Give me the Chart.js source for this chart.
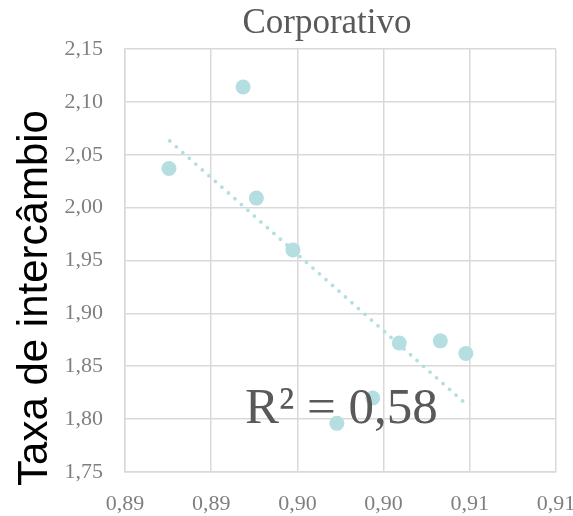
<!DOCTYPE html>
<html>
<head>
<meta charset="utf-8">
<script src="https://cdn.jsdelivr.net/npm/chart.js@4"></script>
<style>
  html, body { margin: 0; padding: 0; background: #fff; }
  #wrap { width: 573px; height: 516px; }
</style>
</head>
<body>
<div id="wrap"><canvas id="scatterChart"></canvas></div>
<script>
// valores
const xValues = [0.88755, 0.89185, 0.89262, 0.89474, 0.89729, 0.89937, 0.90091, 0.90329, 0.90477];
const yValues = [2.037, 2.114, 2.009, 1.960, 1.796, 1.820, 1.872, 1.874, 1.862];
const trendX = [0.8876, 0.9048];
const trendY = [2.063, 1.814];
const xTickValues = [0.885, 0.890, 0.895, 0.900, 0.905, 0.910];
const xTickLabels = ['0,89', '0,89', '0,90', '0,90', '0,91', '0,91'];
const yTickValues = [1.75, 1.80, 1.85, 1.90, 1.95, 2.00, 2.05, 2.10, 2.15];
const yTickLabels = ['1,75', '1,80', '1,85', '1,90', '1,95', '2,00', '2,05', '2,10', '2,15'];
const chartTitle = 'Corporativo';
const yTitle = 'Taxa de intercâmbio';
const r2Label = 'R² = 0,58';

document.addEventListener('DOMContentLoaded', function () {
    const ctx = document.getElementById('scatterChart').getContext('2d');
    const serif = '"Liberation Serif", "DejaVu Serif", serif';
    const markColor = '#b5dee1';

    const overlayText = {
        id: 'overlayText',
        afterDraw(chart) {
            const c = chart.ctx;
            c.save();
            c.fillStyle = '#595959';
            c.font = '35px ' + serif;
            c.textAlign = 'center';
            c.textBaseline = 'alphabetic';
            c.fillText(chartTitle, 327, 33);

            c.font = '51px ' + serif;
            c.textAlign = 'left';
            c.fillText(r2Label, 245, 423);

            c.fillStyle = '#000';
            c.font = '42px "Liberation Sans", Arial, sans-serif';
            c.translate(47, 298);
            c.rotate(-Math.PI / 2);
            c.textAlign = 'center';
            c.fillText(yTitle, 0, 0);
            c.restore();
        }
    };

    new Chart(ctx, {
        type: 'scatter',
        data: {
            datasets: [{
                label: 'Corporativo',
                data: xValues.map((x, i) => ({ x: x, y: yValues[i] })),
                backgroundColor: markColor,
                borderWidth: 0,
                pointRadius: 7.5,
                order: 1
            }, {
                label: 'Tendência',
                type: 'line',
                data: trendX.map((x, i) => ({ x: x, y: trendY[i] })),
                borderColor: markColor,
                borderWidth: 3.8,
                borderDash: [0, 8.7],
                borderCapStyle: 'round',
                pointRadius: 0,
                fill: false,
                order: 2
            }]
        },
        options: {
            responsive: true,
            maintainAspectRatio: false,
            animation: false,
            layout: { padding: { top: 49, right: 17, left: 0, bottom: 0 } },
            plugins: {
                legend: { display: false },
                title: { display: false },
                tooltip: { enabled: false }
            },
            scales: {
                x: {
                    type: 'linear',
                    min: 0.885,
                    max: 0.91,
                    afterBuildTicks: function (scale) {
                        scale.ticks = xTickValues.map(v => ({ value: v }));
                    },
                    afterFit: function (scale) {
                        scale.height = 44;
                        scale.paddingLeft = 0;
                        scale.paddingRight = 0;
                    },
                    ticks: {
                        padding: 19,
                        color: '#7f7f7f',
                        font: { family: serif, size: 22 },
                        maxRotation: 0,
                        autoSkip: false,
                        callback: (v, i) => xTickLabels[i]
                    },
                    grid: { color: '#d9d9d9', lineWidth: 1.5, drawTicks: false },
                    border: { color: '#d9d9d9', width: 1.5 }
                },
                y: {
                    min: 1.75,
                    max: 2.15,
                    afterBuildTicks: function (scale) {
                        scale.ticks = yTickValues.map(v => ({ value: v }));
                    },
                    afterFit: function (scale) {
                        scale.width = 125;
                    },
                    ticks: {
                        padding: 22,
                        color: '#7f7f7f',
                        font: { family: serif, size: 22 },
                        autoSkip: false,
                        callback: (v, i) => yTickLabels[i]
                    },
                    grid: { color: '#d9d9d9', lineWidth: 1.5, drawTicks: false },
                    border: { color: '#d9d9d9', width: 1.5 }
                }
            }
        },
        plugins: [overlayText]
    });
});
</script>
</body>
</html>
